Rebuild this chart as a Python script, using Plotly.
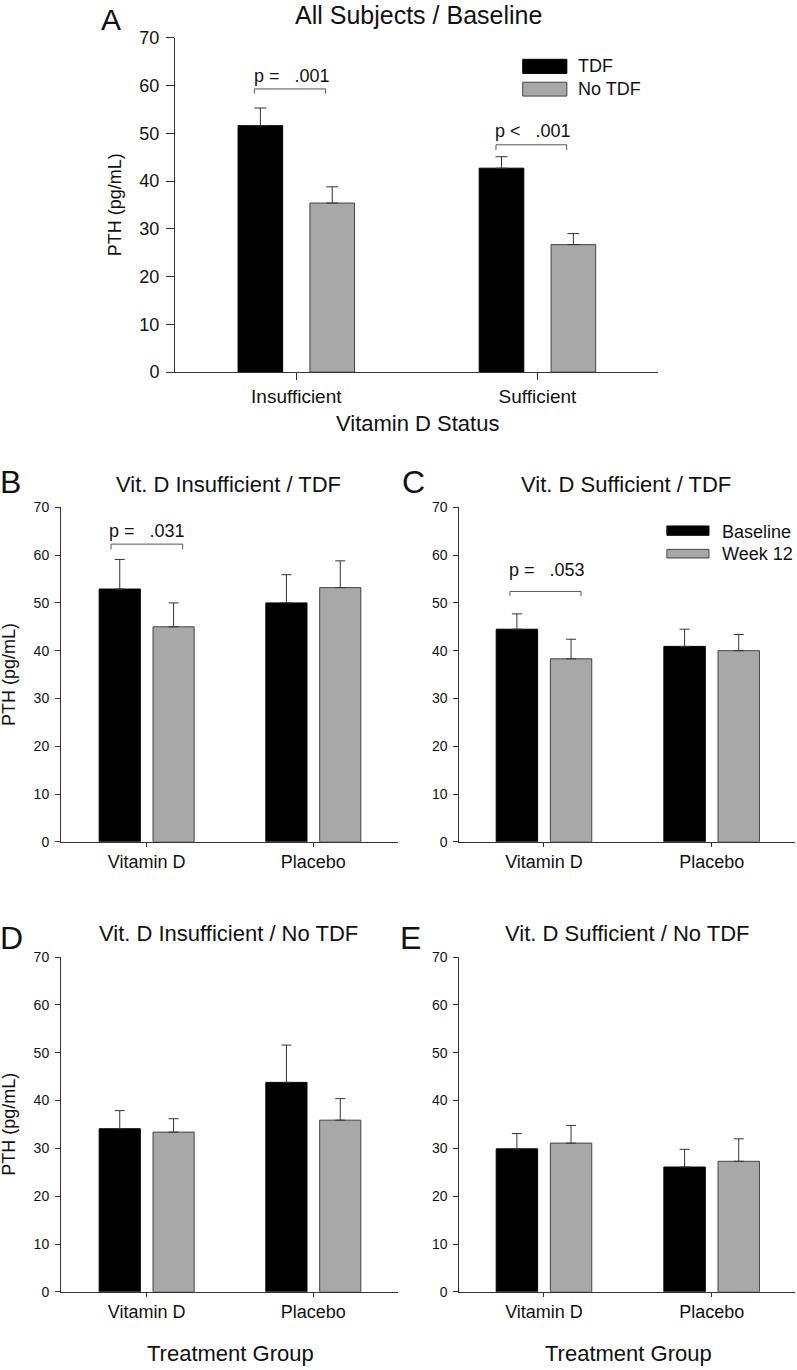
import plotly.graph_objects as go

W, H = 797, 1370
FONT = "Liberation Sans, Arial, sans-serif"

# ---------------- data ----------------
cats_A = ["Insufficient", "Sufficient"]
tdf_A = [51.6, 42.7]
tdf_A_err = [3.7, 2.4]
notdf_A = [35.4, 26.7]
notdf_A_err = [3.4, 2.3]

cats_tx = ["Vitamin D", "Placebo"]
base_B = [52.9, 50.0]
base_B_err = [6.2, 5.9]
wk12_B = [45.0, 53.2]
wk12_B_err = [5.0, 5.6]

base_C = [44.5, 40.9]
base_C_err = [3.2, 3.6]
wk12_C = [38.3, 40.0]
wk12_C_err = [4.1, 3.4]

base_D = [34.1, 43.8]
base_D_err = [3.8, 7.8]
wk12_D = [33.4, 35.9]
wk12_D_err = [2.8, 4.5]

base_E = [29.9, 26.1]
base_E_err = [3.2, 3.7]
wk12_E = [31.1, 27.3]
wk12_E_err = [3.7, 4.7]

y_ticks = [0, 10, 20, 30, 40, 50, 60, 70]

BLACK = "#000000"
GRAY = "#a8a8a8"
LINE = "#333333"

# slight vertical stretch about the page middle (compensates the capture)
VC, VK = 690.0, 1.0142


def px(x):
    return x / W


def py(y):
    y2 = VC + (y - VC) * VK
    return 1 - y2 / H


fig = go.Figure()

panels = [
    ("", cats_A, tdf_A, tdf_A_err, notdf_A, notdf_A_err, 0.185, 0.149, 6),
    ("2", cats_tx, base_B, base_B_err, wk12_B, wk12_B_err, 0.247, 0.1615, 5),
    ("3", cats_tx, base_C, base_C_err, wk12_C, wk12_C_err, 0.247, 0.1615, 5),
    ("4", cats_tx, base_D, base_D_err, wk12_D, wk12_D_err, 0.247, 0.1615, 5),
    ("5", cats_tx, base_E, base_E_err, wk12_E, wk12_E_err, 0.247, 0.1615, 5),
]

for suf, cats, s1, e1, s2, e2, bw, ho, cw in panels:
    xs = list(range(len(cats)))
    for vals, errs, col, lc, sign in [(s1, e1, BLACK, BLACK, -1), (s2, e2, GRAY, "#444444", 1)]:
        fig.add_trace(go.Bar(
            x=xs, y=vals, width=bw, offset=sign * ho - bw / 2,
            marker=dict(color=col, line=dict(color=lc, width=1)),
            error_y=dict(type="data", symmetric=False, array=errs,
                         arrayminus=[0] * len(errs), color=LINE,
                         thickness=1, width=cw),
            xaxis="x" + suf, yaxis="y" + suf, showlegend=False,
            hoverinfo="skip",
        ))

geom = {
    "": (175, 658, 372, 37.5, [-0.503, 1.5], 19, 18, 8),
    "2": (61, 398, 842, 507.3, [-0.514, 1.508], 18, 14, 5),
    "3": (459.3, 795, 842, 507.3, [-0.505, 1.497], 18, 14, 5),
    "4": (61, 398, 1292.3, 957.3, [-0.514, 1.508], 18, 14, 5),
    "5": (459.3, 795, 1292.3, 957.3, [-0.505, 1.497], 18, 14, 5),
}
layout = {}
for suf, (x0, x1, yb, yt, xr, xf, yf, tl) in geom.items():
    cats = cats_A if suf == "" else cats_tx
    layout["xaxis" + suf] = dict(
        domain=[px(x0), px(x1)], range=xr, anchor="y" + suf,
        tickmode="array", tickvals=list(range(len(cats))), ticktext=cats,
        showline=True, linecolor=LINE, linewidth=1, ticks="outside",
        ticklen=tl - 1, tickcolor=LINE, showgrid=False, zeroline=False,
        tickfont=dict(family=FONT, size=xf, color="#111"), fixedrange=True,
    )
    layout["yaxis" + suf] = dict(
        domain=[py(yb), py(yt)], range=[0, 70], anchor="x" + suf,
        tickmode="array", tickvals=y_ticks,
        showline=True, linecolor=LINE, linewidth=1, ticks="outside",
        ticklen=tl, tickcolor=LINE, showgrid=False, zeroline=False,
        tickfont=dict(family=FONT, size=yf, color="#111"), fixedrange=True,
        ticklabelstandoff=3,
    )

annotations = []
shapes = []


def txt(text, x, y, size, angle=0, xanchor="center"):
    annotations.append(dict(text=text, x=px(x), y=py(y), xref="paper", yref="paper",
                            showarrow=False, xanchor=xanchor, yanchor="middle",
                            textangle=angle,
                            font=dict(family=FONT, size=size, color="#111")))


txt("All Subjects / Baseline", 419, 15, 25)
txt("Vit. D Insufficient / TDF", 229, 484, 22)
txt("Vit. D Sufficient / TDF", 626, 484, 22)
txt("Vit. D Insufficient / No TDF", 229, 934, 22)
txt("Vit. D Sufficient / No TDF", 627, 934, 22)
txt("A", 111, 19, 30)
for letter, lx, ly in [("B", 10, 482), ("C", 413, 482), ("D", 11, 938), ("E", 410, 938)]:
    txt(letter, lx, ly, 32)

txt("PTH (pg/mL)", 115, 205, 18, -90)
txt("PTH (pg/mL)", 9, 675, 18, -90)
txt("PTH (pg/mL)", 9, 1125, 18, -90)
txt("Vitamin D Status", 417, 423, 22)
txt("Treatment Group", 230, 1354, 22)
txt("Treatment Group", 628, 1354, 22)


def bracket(suf, xl, xr_, ytop, yleg, label, xtext, ytext):
    shapes.append(dict(type="path", xref="x" + suf, yref="y" + suf,
                       path=f"M{xl},{yleg} L{xl},{ytop} L{xr_},{ytop} L{xr_},{yleg}",
                       line=dict(color="#555555", width=1)))
    annotations.append(dict(text=label, x=xtext, y=ytext, xref="x" + suf, yref="y" + suf,
                            showarrow=False, xanchor="left", yanchor="middle",
                            font=dict(family=FONT, size=18, color="#111")))


NB = "\u00a0"
bracket("", -0.174, 0.121, 59.3, 58.3, "p =" + NB * 3 + ".001", -0.182, 62.0)
bracket("", 0.828, 1.121, 47.6, 46.5, "p <" + NB * 3 + ".001", 0.815, 50.4)
bracket("2", -0.214, 0.216, 62.3, 61.2, "p =" + NB * 3 + ".031", -0.236, 65.0)
bracket("3", -0.203, 0.221, 52.4, 51.45, "p =" + NB * 3 + ".053", -0.219, 56.9)


def legend_item(suf, x0, x1, y0, y1, col, lc, label, xt, yt):
    shapes.append(dict(type="rect", xref="x" + suf, yref="y" + suf, x0=x0, x1=x1, y0=y0, y1=y1,
                       fillcolor=col, line=dict(color=lc, width=1)))
    annotations.append(dict(text=label, x=xt, y=yt, xref="x" + suf, yref="y" + suf,
                            showarrow=False, xanchor="left", yanchor="middle",
                            font=dict(family=FONT, size=18, color="#111")))


legend_item("", 0.939, 1.122, 62.55, 65.5, BLACK, BLACK, "TDF", 1.158, 64.0)
legend_item("", 0.939, 1.122, 57.8, 60.7, GRAY, "#444444", "No TDF", 1.158, 59.3)
legend_item("3", 0.733, 0.984, 64.15, 66.1, BLACK, BLACK, "Baseline", 1.049, 64.9)
legend_item("3", 0.733, 0.984, 59.4, 61.2, GRAY, "#444444", "Week 12", 1.049, 60.3)

fig.update_layout(
    width=W, height=H, autosize=False,
    margin=dict(l=0, r=0, t=0, b=0),
    paper_bgcolor="white", plot_bgcolor="white",
    barmode="overlay", showlegend=False,
    annotations=annotations, shapes=shapes,
    font=dict(family=FONT, color="#111"),
    **layout,
)

fig.write_html(
    "out.html",
    config={"displayModeBar": False, "staticPlot": True},
    post_script="document.body.style.margin='0';document.body.style.padding='0';"
                "document.documentElement.style.overflow='hidden';",
)
